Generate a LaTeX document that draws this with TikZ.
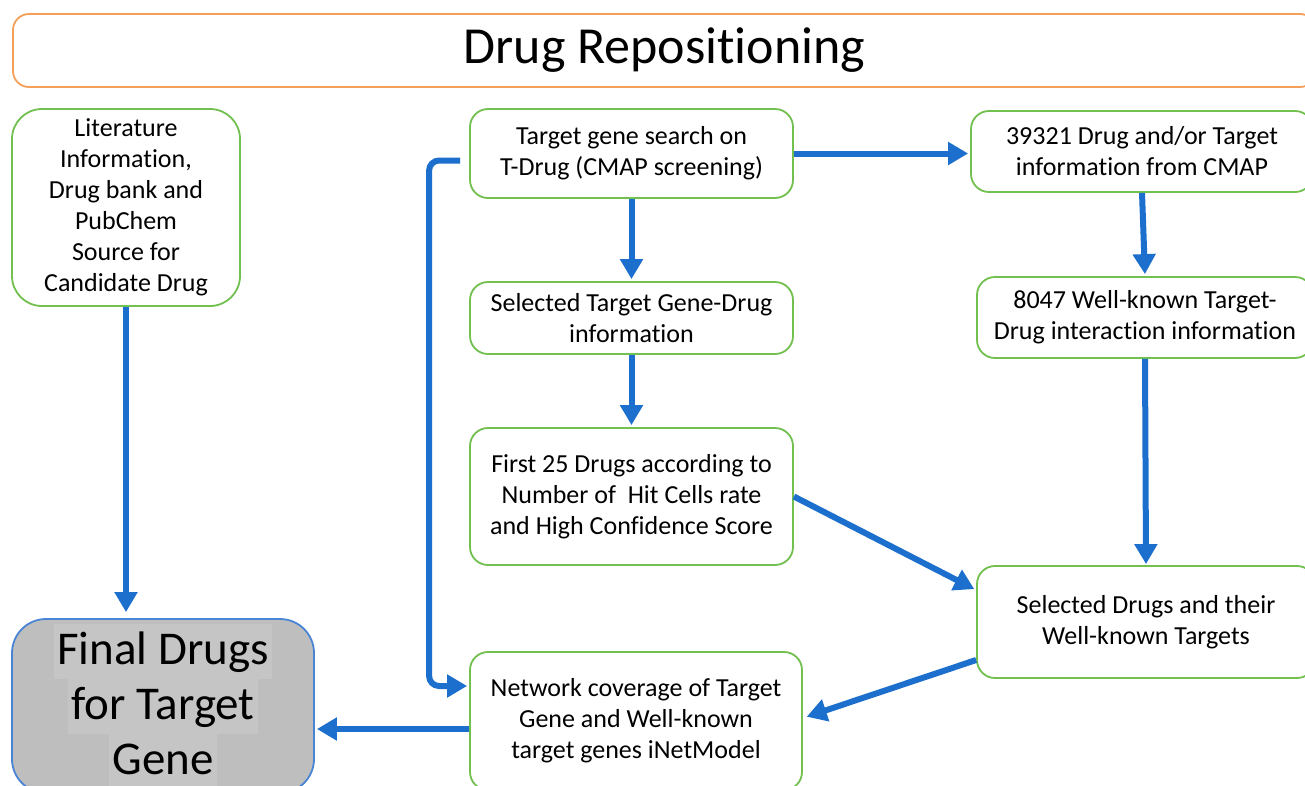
\documentclass[tikz,border=0pt]{standalone}
\usepackage{fontspec}
\setmainfont{Carlito}[Ligatures=NoCommon]
\usetikzlibrary{arrows.meta}
\definecolor{boxgreen}{HTML}{72C04F}
\definecolor{titleorange}{HTML}{F5A05A}
\definecolor{flowblue}{HTML}{1C6FCC}
\definecolor{finalgray}{HTML}{BEBEBE}
\definecolor{finalline}{HTML}{4A84D4}
\definecolor{hlgray}{HTML}{C5C5C5}
% one highlighted text line inside the result box
\newcommand\hlline[1]{{\setlength\fboxsep{0pt}\colorbox{hlgray}{\hspace{3pt}\rule[-14pt]{0pt}{55pt}#1\hspace{3pt}}}}
\tikzset{
  stepbox/.style={draw=boxgreen, line width=1.8pt, rounded corners=18pt, fill=white,
    align=center, inner sep=0pt, font=\fontsize{26}{31}\selectfont},
  titlebox/.style={draw=titleorange, line width=1.8pt, rounded corners=16pt, fill=white,
    inner sep=0pt, font=\fontsize{52}{60}\selectfont},
  resultbox/.style={draw=finalline, line width=1.8pt, rounded corners=34pt, fill=finalgray,
    align=center, inner sep=0pt, font=\fontsize{47}{55}\selectfont},
  arr/.style={draw=flowblue, line width=6pt, -{Triangle[length=20pt,width=22pt]}}
}
\begin{document}
\begin{tikzpicture}[x=1pt,y=-1pt]
\useasboundingbox (0,0) rectangle (1305,785);
\fill[white] (0,0) rectangle (1305,785);

% header
\node[titlebox, minimum width=1303pt, minimum height=73pt] (title) at (664.5,50.5) {Drug Repositioning};

% left column
\node[stepbox, rounded corners=30pt, minimum width=228pt, minimum height=197pt] (lit) at (126,207.5)
  {Literature\\Information,\\Drug bank and\\PubChem\\Source for\\Candidate Drug};
\node[resultbox, minimum width=302pt, minimum height=174pt] (fd) at (163,706)
  {\hlline{Final Drugs}\\\hlline{for Target}\\\hlline{Gene}};

% middle column
\node[stepbox, minimum width=323pt, minimum height=89pt] (tg) at (631.5,153.5)
  {Target gene search on\\T-Drug (CMAP screening)};
\node[stepbox, minimum width=323pt, minimum height=72pt] (stg) at (631.5,318)
  {Selected Target Gene-Drug\\information};
\node[stepbox, minimum width=323pt, minimum height=137pt] (f25) at (631.5,496.5)
  {First 25 Drugs according to\\Number of\ \ Hit Cells rate\\and High Confidence Score};
\node[stepbox, minimum width=332pt, minimum height=138pt] (nc) at (636,721)
  {Network coverage of Target\\Gene and Well-known\\target genes iNetModel};

% right column
\node[stepbox, minimum width=342pt, minimum height=81pt] (cm) at (1142,151.5)
  {39321 Drug and/or Target\\information from CMAP};
\node[stepbox, minimum width=336pt, minimum height=81pt] (k8) at (1145,317.5)
  {8047 Well-known Target-\\Drug interaction information};
\node[stepbox, minimum width=338pt, minimum height=112pt] (sd) at (1146,622)
  {Selected Drugs and their\\Well-known Targets};

% connectors
\draw[arr, shorten >=6pt] (lit.south) -- (fd.north -| lit.south);
\draw[arr, shorten >=2pt] (tg.east) -- (tg.east -| cm.west);
\draw[arr, shorten >=2pt] (tg.south) -- (stg.north);
\draw[arr, shorten >=2pt] (stg.south) -- (f25.north);
\draw[arr, shorten >=2pt] (cm.south) -- (k8.north);
\draw[arr, shorten >=1pt] (k8.south) -- (sd.north);
\draw[arr, shorten >=2pt] (f25.east) -- ([yshift=32pt]sd.west);
\draw[arr, shorten >=4pt] ([yshift=-38pt]sd.west) -- ([yshift=3pt]nc.east);
\draw[arr, shorten >=2pt] ([yshift=-8pt]nc.west) -- ([yshift=-8pt]nc.west -| fd.east);
\draw[arr, rounded corners=10pt] ([xshift=-9pt,yshift=-7pt]tg.west)
  -| ([xshift=-40pt,yshift=35pt]nc.west) -- ([xshift=-2pt,yshift=35pt]nc.west);
\end{tikzpicture}
\end{document}
